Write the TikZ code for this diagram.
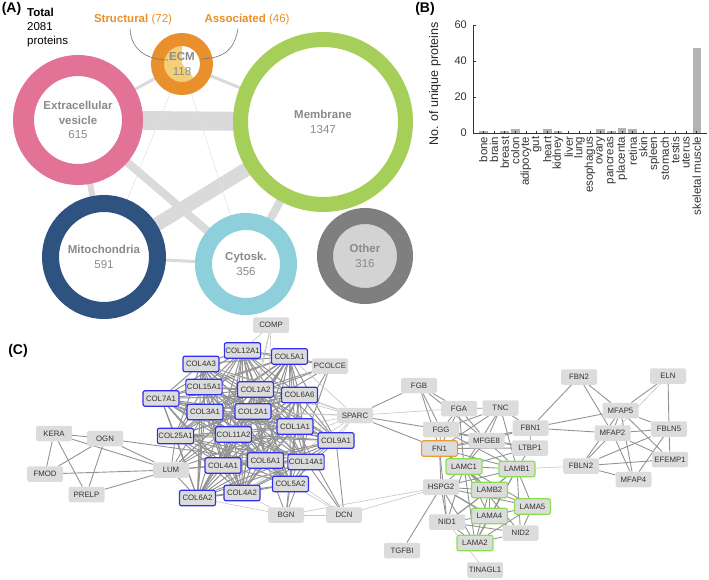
\documentclass[tikz,border=0pt]{standalone}
\usepackage{fontspec}
\setmainfont{Liberation Sans}
\usetikzlibrary{backgrounds}
\definecolor{evpink}{HTML}{E27396}
\definecolor{memgreen}{HTML}{A5CF58}
\definecolor{mitoblue}{HTML}{2F5380}
\definecolor{cytoblue}{HTML}{8DCFDB}
\definecolor{othergray}{HTML}{7F7F7F}
\definecolor{otherfill}{HTML}{D3D3D3}
\definecolor{ecmorange}{HTML}{E98F2C}
\definecolor{ecmyellow}{HTML}{F5CF78}
\definecolor{labelgray}{HTML}{8A8A8A}
\definecolor{bandgray}{HTML}{DADADA}
\definecolor{bargray}{HTML}{B3B3B3}
\definecolor{protgray}{HTML}{DCDCDC}
\definecolor{collblue}{HTML}{3030F0}
\definecolor{lamgreen}{HTML}{88E050}
\definecolor{fnorange}{HTML}{EE9A30}
\definecolor{linkgray}{HTML}{939393}
\definecolor{weakgray}{HTML}{C4C4C4}

\begin{document}
\begin{tikzpicture}[x=1pt,y=-1pt]
    \tikzstyle{ring} = [circle, fill=white, inner sep=0pt, outer sep=0pt, align=center, text=labelgray, font=\fontsize{11.5}{14.5}\selectfont]
    \tikzstyle{band} = [draw=bandgray]
    \tikzstyle{panel} = [font=\fontsize{14}{16}\selectfont\bfseries, inner sep=0pt]
    \tikzstyle{prot} = [rectangle, rounded corners=2pt, fill=protgray, minimum width=36pt, minimum height=15.5pt, inner sep=1pt, font=\fontsize{7.8}{9}\selectfont, text=black!80]
    \tikzstyle{coll} = [prot, draw=collblue, line width=1.2pt]
    \tikzstyle{lam} = [prot, draw=lamgreen, line width=1.2pt]
    \tikzstyle{fn} = [prot, draw=fnorange, line width=1.2pt]
    \tikzstyle{link} = [draw=linkgray, line width=0.9pt]
    \tikzstyle{weak} = [draw=weakgray, line width=0.6pt]

    \useasboundingbox (0,0) rectangle (709,580);

    % (A) compartments
    \node[panel] (pa) at (11.5,9) {(A)};
    \node[anchor=north west, align=left, inner sep=0pt, font=\fontsize{11.5}{14}\selectfont] (total) at (27,8) {\textbf{Total}\\2081\\proteins};

    \node[ring, draw=evpink, line width=21pt, minimum size=109pt] (ev) at (78,120) {\textbf{Extracellular}\\\textbf{vesicle}\\615};
    \node[ring, draw=memgreen, line width=15pt, minimum size=165pt] (mem) at (323,122) {\textbf{Membrane}\\1347};
    \node[ring, draw=mitoblue, line width=17pt, minimum size=107pt] (mito) at (104,257) {\textbf{Mitochondria}\\591};
    \node[ring, draw=cytoblue, line width=17pt, minimum size=85pt] (cyto) at (246,264) {\textbf{Cytosk.}\\356};
    \node[ring, draw=othergray, fill=otherfill, line width=16pt, minimum size=80pt] (other) at (365,256) {\textbf{Other}\\316};
    \node[ring, draw=ecmorange, line width=13pt, minimum size=49pt,
          path picture={\fill[ecmyellow] (path picture bounding box.center) -- +(90:18pt) arc (90:310:18pt) -- cycle;}] (ecm) at (182,64) {\textbf{ECM}\\118};

    \node[text=ecmorange, inner sep=0pt, font=\fontsize{11.5}{14}\selectfont] (struct) at (133,20) {\textbf{Structural} (72)};
    \node[text=ecmorange, inner sep=0pt, font=\fontsize{11.5}{14}\selectfont] (assoc) at (247,20) {\textbf{Associated} (46)};
    \coordinate (structend) at (168,60);
    \coordinate (assocend) at (201,59);
    \draw[black!55, line width=0.6pt] ([xshift=-3pt,yshift=-3pt]struct.south) .. controls (131,52) and (150,60) .. (structend);
    \draw[black!55, line width=0.6pt] ([xshift=-9pt,yshift=-3pt]assoc.south) .. controls (234,52) and (222,58) .. (assocend);

    \begin{scope}[on background layer]
        \draw[band, line width=19pt] (ev) -- (mem);
        \draw[band, line width=14pt] (mito) -- (mem);
        \draw[band, line width=8pt] (ev) -- (cyto);
        \draw[band, line width=8pt] (mem) -- (cyto);
        \draw[band, line width=6pt] (ev) -- (mito);
        \draw[band, line width=3pt] (mito) -- (cyto);
        \draw[band, line width=3pt] (ev) -- (ecm);
        \draw[band, line width=3pt] (ecm) -- (mem);
        \draw[draw=black!12, line width=0.5pt] (ecm) -- (mito);
        \draw[draw=black!12, line width=0.5pt] (ecm) -- (cyto);
    \end{scope}

    % (B) tissue bar chart
    \node[panel] (pb) at (425,9) {(B)};
    \node[rotate=90, font=\fontsize{12.5}{14}\selectfont, text=black!85] (ylab) at (435,84) {No. of unique proteins};
    \draw[black!80, line width=0.6pt] (473,25) -- (473,133) -- (707,133);
    \foreach \v in {0,20,40,60} {
        \draw[black!80, line width=0.6pt] (473,133-1.8*\v) -- (475.5,133-1.8*\v);
        \node[anchor=east, inner sep=0pt, font=\fontsize{11}{13}\selectfont, text=black!80] at (467,133-1.8*\v) {\v};
    }
    \foreach \t/\v [count=\i] in {bone/1, brain/0, breast/1, colon/2, adipocyte/0, gut/0, heart/2, kidney/1, liver/0, lung/0, esophagus/0, ovary/2, pancreas/1, placenta/3, retina/2, skin/0, spleen/0, stomach/0, testis/0, uterus/0, skeletal muscle/47} {
        \pgfmathsetmacro{\bx}{483.3+10.67*(\i-1)}
        \ifnum\v>0 \fill[bargray] (\bx-4.2,133) rectangle (\bx+4.2,133-1.8*\v); \fi
        \draw[black!80, line width=0.5pt] (\bx,133) -- (\bx,131);
        \node[rotate=90, anchor=east, inner sep=0pt, font=\fontsize{11.5}{11.5}\selectfont, text=black!80] at (\bx,136.5) {\t};
    }

    % (C) matrisome network
    \node[panel] (pc) at (18,351) {(C)};

    \node[prot] (comp) at (271,325) {COMP};
    \node[coll] (col12a1) at (242.5,350.5) {COL12A1};
    \node[coll] (col5a1) at (289.5,356.5) {COL5A1};
    \node[coll] (col4a3) at (201,364) {COL4A3};
    \node[prot] (pcolce) at (330,366) {PCOLCE};
    \node[coll] (col15a1) at (204,387) {COL15A1};
    \node[coll] (col1a2) at (255.5,389.5) {COL1A2};
    \node[coll] (col6a6) at (299.5,395) {COL6A6};
    \node[coll] (col7a1) at (161,398.5) {COL7A1};
    \node[coll] (col3a1) at (205,412) {COL3A1};
    \node[coll] (col2a1) at (253,411.5) {COL2A1};
    \node[prot] (sparc) at (355,415.5) {SPARC};
    \node[coll] (col1a1) at (295,426.5) {COL1A1};
    \node[coll] (col25a1) at (175.5,436) {COL25A1};
    \node[coll] (col11a2) at (233.5,434.5) {COL11A2};
    \node[coll] (col9a1) at (336,440.5) {COL9A1};
    \node[coll] (col4a1) at (223,465.5) {COL4A1};
    \node[coll] (col6a1) at (265.5,460.5) {COL6A1};
    \node[coll] (col14a1) at (306,462) {COL14A1};
    \node[prot] (lum) at (171,470) {LUM};
    \node[coll] (col6a2) at (197.5,498) {COL6A2};
    \node[coll] (col4a2) at (242,493) {COL4A2};
    \node[coll] (col5a2) at (290.5,484) {COL5A2};
    \node[prot] (bgn) at (286,515) {BGN};
    \node[prot] (dcn) at (344,515) {DCN};
    \node[prot] (kera) at (54,433.5) {KERA};
    \node[prot] (ogn) at (105,438.5) {OGN};
    \node[prot] (fmod) at (45,474) {FMOD};
    \node[prot] (prelp) at (86.5,494.5) {PRELP};

    \node[prot] (fgb) at (419,385.5) {FGB};
    \node[prot] (fga) at (459,408.5) {FGA};
    \node[prot] (tnc) at (500.5,408) {TNC};
    \node[prot] (fgg) at (441,429.5) {FGG};
    \node[fn] (fn1) at (439.5,448.5) {FN1};
    \node[prot] (mfge8) at (486.5,440.5) {MFGE8};
    \node[prot] (fbn1) at (530.5,428) {FBN1};
    \node[prot] (ltbp1) at (530,448) {LTBP1};
    \node[lam] (lamc1) at (464,466.5) {LAMC1};
    \node[lam] (lamb1) at (517,469) {LAMB1};
    \node[prot] (hspg2) at (441,487) {HSPG2};
    \node[lam] (lamb2) at (489.5,490) {LAMB2};
    \node[lam] (lama5) at (532.5,506.5) {LAMA5};
    \node[lam] (lama4) at (489.5,516) {LAMA4};
    \node[prot] (nid1) at (447,522) {NID1};
    \node[prot] (nid2) at (520.5,533) {NID2};
    \node[lam] (lama2) at (475,543) {LAMA2};
    \node[prot] (tgfbi) at (402,550.5) {TGFBI};
    \node[prot] (tinagl1) at (485,570) {TINAGL1};

    \node[prot] (fbn2) at (579,377) {FBN2};
    \node[prot] (eln) at (668,376) {ELN};
    \node[prot] (mfap5) at (620.5,410.5) {MFAP5};
    \node[prot] (mfap2) at (612.5,433) {MFAP2};
    \node[prot] (fbln5) at (669,429) {FBLN5};
    \node[prot] (fbln2) at (581,466) {FBLN2};
    \node[prot] (efemp1) at (670,459.5) {EFEMP1};
    \node[prot] (mfap4) at (633.5,479.5) {MFAP4};

    \begin{scope}[on background layer]
        % collagen clique
        \foreach \a [count=\i] in {col12a1,col5a1,col4a3,col15a1,col1a2,col6a6,col7a1,col3a1,col2a1,col1a1,col25a1,col11a2,col9a1,col4a1,col6a1,col14a1,col6a2,col4a2,col5a2} {
            \foreach \b [count=\j] in {col12a1,col5a1,col4a3,col15a1,col1a2,col6a6,col7a1,col3a1,col2a1,col1a1,col25a1,col11a2,col9a1,col4a1,col6a1,col14a1,col6a2,col4a2,col5a2} {
                \ifnum\j>\i \draw[link, line width=1pt] (\a) -- (\b); \fi
            }
        }
        \foreach \a/\b in {kera/ogn, kera/fmod, kera/prelp, kera/lum, ogn/fmod, ogn/prelp, ogn/lum, ogn/col6a1, fmod/lum, prelp/lum,
                           lum/col1a1, lum/col1a2, lum/col3a1, lum/col5a1, lum/col2a1, lum/col25a1, lum/col11a2, lum/col6a2, lum/col4a1, lum/col6a1,
                           pcolce/col5a1, pcolce/col1a1, pcolce/col1a2, pcolce/col2a1, pcolce/col3a1, pcolce/col5a2, pcolce/col12a1,
                           bgn/col5a2, bgn/col6a1, bgn/col14a1, bgn/col1a1, bgn/dcn,
                           dcn/col14a1, dcn/col9a1, dcn/col1a1,
                           sparc/fgb, sparc/fgg, sparc/fn1,
                           fgb/fga, fgb/fgg, fgb/fn1, fgb/mfge8, fga/fgg, fga/fn1, fga/mfge8, fga/tnc, fga/lamc1,
                           tnc/fbn1, tnc/mfge8, tnc/fn1, tnc/lamc1, tnc/lamb1, tnc/fgg,
                           fgg/fn1, fgg/mfge8, fgg/ltbp1, fgg/lamb1,
                           fn1/mfge8, fn1/ltbp1, fn1/fbn1, fn1/lamc1, fn1/lamb1, fn1/hspg2, fn1/lamb2, fn1/nid1,
                           fbn1/ltbp1, fbn1/mfge8, fbn1/fbn2, fbn1/mfap2, fbn1/mfap5,
                           ltbp1/lamb1, ltbp1/lamc1, mfge8/lamc1, mfge8/lamb1, mfge8/ltbp1,
                           hspg2/tgfbi, hspg2/lamc1, hspg2/lamb1, hspg2/lamb2, hspg2/lama4, hspg2/lama5, hspg2/lama2, hspg2/nid1, hspg2/nid2,
                           lamc1/lamb1, lamc1/lamb2, lamc1/lama5, lamc1/lama4, lamc1/lama2, lamb1/lamb2, lamb1/lama5, lamb1/lama4, lamb1/lama2,
                           lamb2/lama5, lamb2/lama4, lamb2/lama2, lama5/lama4, lama5/lama2, lama4/lama2,
                           nid1/lamc1, nid1/lamb1, nid1/lamb2, nid1/lama4, nid1/lama2, nid1/nid2,
                           nid2/lamc1, nid2/lamb1, nid2/lama5, nid2/lama4, nid2/lama2,
                           fbn2/mfap5, fbn2/mfap2, eln/mfap5, eln/fbln5, fbln5/efemp1,
                           mfap5/mfap2, mfap5/fbln5, mfap5/efemp1, mfap5/mfap4, mfap5/fbln2,
                           mfap2/fbln5, mfap2/fbln2, mfap2/mfap4, mfap2/efemp1,
                           fbln5/fbln2, fbln5/mfap4, fbln2/efemp1, fbln2/mfap4}
            \draw[link] (\a) -- (\b);
        \foreach \a/\b in {comp/col12a1, comp/col2a1, comp/col6a1, comp/col1a2,
                           sparc/col1a1, sparc/col1a2, sparc/col3a1, sparc/col4a1, sparc/col4a2, sparc/col5a1, sparc/col5a2, sparc/col6a6, sparc/col9a1, sparc/col4a3, sparc/col2a1, sparc/fga,
                           bgn/col4a2, bgn/col6a2, bgn/hspg2, dcn/hspg2, dcn/col5a2, dcn/col6a1, dcn/bgn,
                           nid1/tinagl1, lamb1/fbln2, eln/mfap2}
            \draw[weak] (\a) -- (\b);
    \end{scope}
\end{tikzpicture}
\end{document}
